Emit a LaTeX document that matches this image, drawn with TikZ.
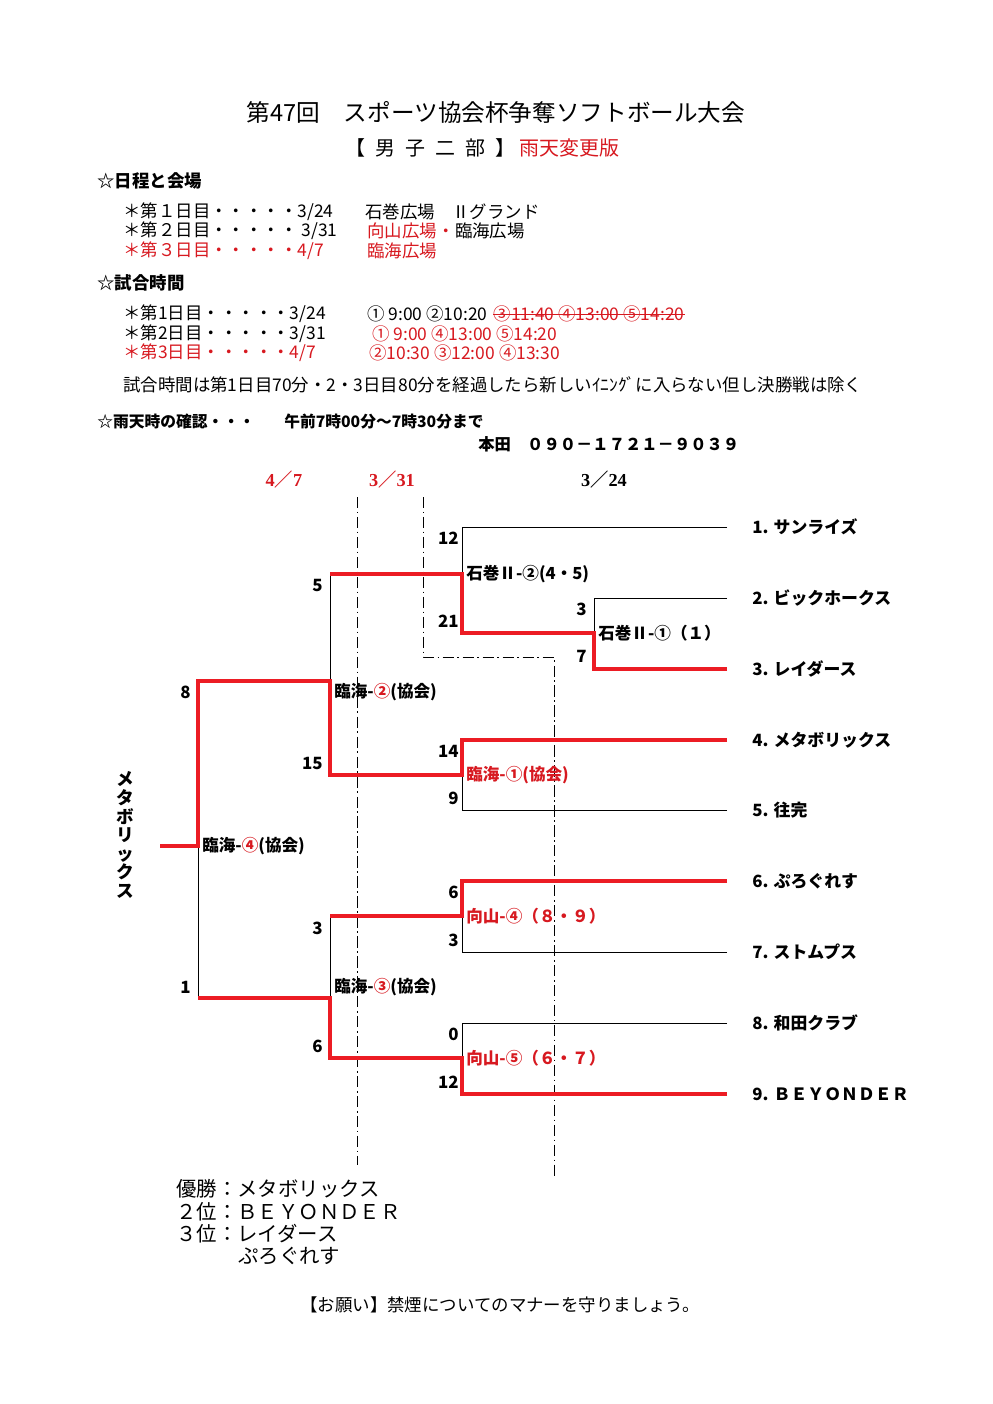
\documentclass[tikz,border=0pt]{standalone}
\usepackage{fontspec}
\setmainfont{Noto Sans CJK JP}
\newfontfamily\datefont{Liberation Serif}
\usepackage{tikz}
\usetikzlibrary{positioning}
\definecolor{LineRed}{HTML}{EC1C24}
\definecolor{TextRed}{HTML}{D71920}

\begin{document}
\begin{tikzpicture}[
	x=0.025cm, y=-0.025cm,
	node distance=0pt,
	body/.style={
		font=\fontsize{12.4}{14}\selectfont,
		anchor=west,
		inner sep=0pt
	},
	head/.style={
		body,
		font=\bfseries\fontsize{12.4}{14}\selectfont
	},
	team/.style={
		font=\bfseries\fontsize{12}{14}\selectfont,
		anchor=west,
		inner sep=0pt
	},
	game/.style={
		font=\bfseries\fontsize{11.8}{14}\selectfont,
		anchor=west,
		inner sep=0pt
	},
	score/.style={
		font=\bfseries\fontsize{12}{14}\selectfont,
		anchor=east,
		inner sep=0pt
	},
	day/.style={
		font=\datefont\bfseries\fontsize{13}{14}\selectfont,
		inner sep=0pt
	},
	result/.style={
		font=\fontsize{14.5}{16}\selectfont,
		anchor=west,
		inner sep=0pt
	},
	tline/.style={line width=0.7pt},
	win/.style={draw=LineRed, line width=2.8pt},
	daydiv/.style={
		line width=0.7pt,
		dash pattern=on 8pt off 2.5pt on 1.2pt off 2.5pt
	}
]
\useasboundingbox (0,0) rectangle (992,1404);

% title
\node[font=\fontsize{16.8}{18}\selectfont, inner sep=0pt] (title) at (496,112)
	{第47回　スポーツ協会杯争奪ソフトボール大会};
\node[font=\fontsize{14.2}{16}\selectfont, inner sep=0pt, anchor=west] (division) at (345,148)
	{【\enspace 男\enspace 子\enspace 二\enspace 部\enspace 】};
\node[font=\fontsize{14.2}{16}\selectfont, inner sep=0pt, text=TextRed, right=3pt of division] (rainver)
	{雨天変更版};

% schedule and venues
\node[head] (venuehd) at (97,181) {☆日程と会場};
\node[body] (d1) at (123,212) {＊第１日目・・・・・3/24};
\node[body] (v1) at (365,212) {石巻広場　Ⅱグランド};
\node[body] (d2) at (123,231) {＊第２日目・・・・・ 3/31};
\node[body, text=TextRed] (v2a) at (367,231) {向山広場・};
\node[body, right=of v2a] (v2b) {臨海広場};
\node[body, text=TextRed] (d3) at (123,251) {＊第３日目・・・・・4/7};
\node[body, text=TextRed] (v3) at (367,251) {臨海広場};

% game times
\node[head] (timehd) at (97,283) {☆試合時間};
\node[body] (g1) at (123,314) {＊第1日目・・・・・3/24};
\node[body] (t1a) at (367,314) {① 9:00 ②10:20};
\node[body, text=TextRed, right=4pt of t1a] (t1b) {③11:40 ④13:00 ⑤14:20};
\draw[TextRed, line width=0.7pt] (t1b.west) -- (t1b.east);
\node[body] (g2) at (123,334) {＊第2日目・・・・・3/31};
\node[body, text=TextRed] (t2) at (372,334) {① 9:00 ④13:00 ⑤14:20};
\node[body, text=TextRed] (g3) at (123,353) {＊第3日目・・・・・4/7};
\node[body, text=TextRed] (t3) at (369,353) {②10:30 ③12:00 ④13:30};
\node[body] (limit) at (123,385)
	{試合時間は第1日目70分・2・3日目80分を経過したら新しいｲﾆﾝｸﾞに入らない但し決勝戦は除く};

% rain check
\node[head, font=\bfseries\fontsize{11.2}{13}\selectfont] (rainhd) at (97,422) {☆雨天時の確認・・・};
\node[head, font=\bfseries\fontsize{11.2}{13}\selectfont] (raintime) at (284,422) {午前7時00分～7時30分まで};
\node[head, font=\bfseries\fontsize{11.6}{13}\selectfont] (phone) at (478,444) {本田　０９０－１７２１－９０３９};

% day headers
\node[day, text=TextRed] (day3) at (284,480) {4{\normalfont\bfseries ／}7};
\node[day, text=TextRed] (day2) at (392,480) {3{\normalfont\bfseries ／}31};
\node[day] (day1) at (604,480) {3{\normalfont\bfseries ／}24};

% day dividers
\coordinate (dvA) at (357,497);
\coordinate (dvAend) at (357,1165);
\coordinate (dvB) at (423,497);
\coordinate (dvBknee) at (554,657);
\coordinate (dvBend) at (554,1177);
\draw[daydiv] (dvA) -- (dvAend);
\draw[daydiv] (dvB) |- (dvBknee) -- (dvBend);

% team ends
\foreach \i/\y in {1/527,2/598,3/669,4/740,5/810,6/881,7/952,8/1023,9/1094}
	\coordinate (t\i) at (727,\y);
% match points
\coordinate (r1a) at (594,633);
\coordinate (r1b) at (462,574);
\coordinate (r1c) at (462,775);
\coordinate (r1d) at (462,916);
\coordinate (r1e) at (462,1058);
\coordinate (sf1) at (330,681);
\coordinate (sf2) at (330,998);
\coordinate (fin) at (198,846);
\coordinate (champ) at (160,846);

% bracket lines
\draw[tline] (t1) -| (r1b);
\draw[tline] (t2) -| (r1a);
\draw[tline] (t5) -| (r1c);
\draw[tline] (t7) -| (r1d);
\draw[tline] (t8) -| (r1e);
\draw[tline] (r1b) -| (sf1);
\draw[tline] (r1d) -| (sf2);
\draw[tline] (sf2) -| (fin);

% winners
\draw[win] (t3) -| (r1a) -| (r1b) -- (r1b -| sf1);
\draw[win] (t4) -| (r1c) -| (sf1) -| (fin) -- (champ);
\draw[win] (t6) -| (r1d) -- (r1d -| sf2);
\draw[win] (t9) -| (r1e) -| (sf2) -- (sf2 -| fin);

% teams
\node[team] (n1) at (752,527) {1. サンライズ};
\node[team] (n2) at (752,598) {2. ビックホークス};
\node[team] (n3) at (752,669) {3. レイダース};
\node[team] (n4) at (752,740) {4. メタボリックス};
\node[team] (n5) at (752,810) {5. 往完};
\node[team] (n6) at (752,881) {6. ぷろぐれす};
\node[team] (n7) at (752,952) {7. ストムプス};
\node[team] (n8) at (752,1023) {8. 和田クラブ};
\node[team] (n9) at (752,1094) {9. ＢＥＹＯＮＤＥＲ};

% match names
\node[game] (m1) at (598,633) {石巻Ⅱ-①（１）};
\node[game] (m2) at (466,574) {石巻Ⅱ-②(4・5)};
\node[game, text=TextRed] (m3) at (466,775) {臨海-①(協会)};
\node[game, text=TextRed] (m4) at (466,916) {向山-④（８・９）};
\node[game, text=TextRed] (m5) at (466,1058) {向山-⑤（６・７）};
\node[game] (m6) at (334,692) {臨海-\textcolor{TextRed}{②}(協会)};
\node[game] (m7) at (334,987) {臨海-\textcolor{TextRed}{③}(協会)};
\node[game] (m8) at (202,846) {臨海-\textcolor{TextRed}{④}(協会)};

% scores
\node[score] (s1) at (587,609) {3};
\node[score] (s2) at (587,656) {7};
\node[score] (s3) at (459,538) {12};
\node[score] (s4) at (459,621) {21};
\node[score] (s5) at (459,751) {14};
\node[score] (s6) at (459,798) {9};
\node[score] (s7) at (459,892) {6};
\node[score] (s8) at (459,940) {3};
\node[score] (s9) at (459,1034) {0};
\node[score] (s10) at (459,1082) {12};
\node[score] (s11) at (323,585) {5};
\node[score] (s12) at (323,763) {15};
\node[score] (s13) at (323,928) {3};
\node[score] (s14) at (323,1046) {6};
\node[score] (s15) at (191,692) {8};
\node[score] (s16) at (191,987) {1};

% champion
\node[font=\bfseries\fontsize{12.5}{13.2}\selectfont, align=center, inner sep=0pt] (winner) at (125,835)
	{メ\\タ\\ボ\\リ\\ッ\\ク\\ス};

% results
\node[result] (place1) at (176,1189) {優勝：メタボリックス};
\node[result] (place2) at (176,1212) {２位：ＢＥＹＯＮＤＥＲ};
\node[result] (place3) at (176,1234) {３位：レイダース};
\node[result] (place3b) at (238,1256) {ぷろぐれす};

\node[body] (request) at (300,1305) {【お願い】禁煙についてのマナーを守りましょう。};

\end{tikzpicture}
\end{document}
